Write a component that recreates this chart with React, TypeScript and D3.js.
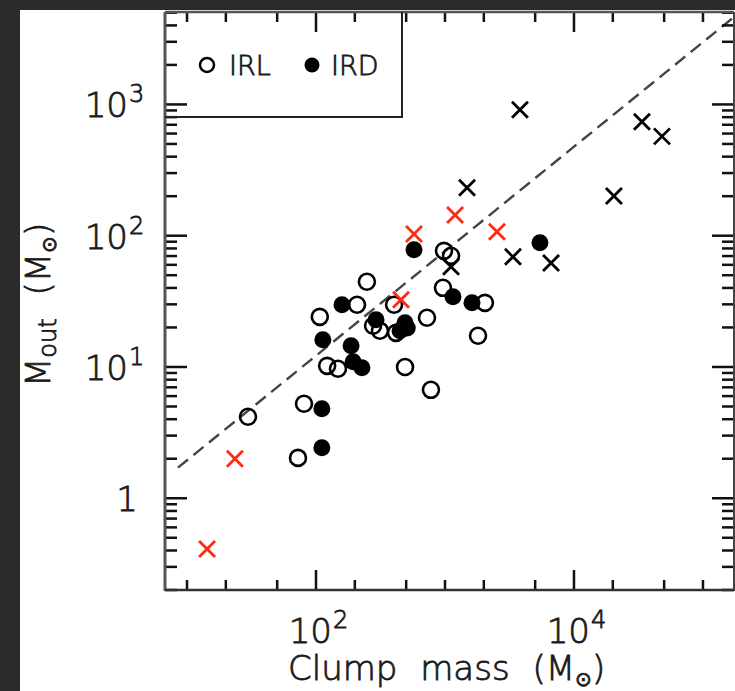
import React from 'react';
import * as d3 from 'd3';

// ---- data ----
const irlMass = [29.7, 80.7, 72.5, 107, 122, 148, 248, 208, 277, 313, 403, 490, 725, 778, 982, 1114, 964, 2040, 1803, 417];
const irlOut = [4.18, 5.25, 2.03, 24.1, 10.2, 9.7, 44.6, 29.8, 20.6, 18.9, 29.8, 10.0, 23.7, 6.7, 76.7, 70.3, 40.1, 30.8, 17.3, 18.2];
const irdMass = [111, 111, 113, 159, 187, 194, 227, 292, 490, 448, 575, 1153, 1619, 5445, 510];
const irdOut = [2.42, 4.8, 16.1, 29.8, 14.5, 10.96, 9.86, 22.9, 21.7, 18.9, 78.1, 34.3, 30.8, 88.3, 19.8];
const redXMass = [14.3, 23.5, 575, 456, 1197, 2530];
const redXOut = [0.41, 2.0, 103, 32.5, 144, 107];
const blkXMass = [3811, 33650, 48100, 20400, 1482, 3365, 6640, 1114];
const blkXOut = [910, 738, 571, 201, 232, 69, 62, 58];
const fitMass = [8.5, 1.71e5];
const fitOut = [1.71, 4570];

const xMajor = [100, 1e4];
const xMajorSup = ['2', '4'];
const xMinor = [10, 20, 50, 200, 500, 1000, 2000, 5000, 2e4, 5e4, 1e5];
const yMajor = [1, 10, 100, 1000];
const yMajorBase = ['1', '10', '10', '10'];
const yMajorSup = ['', '1', '2', '3'];
const yMinorMult = [2, 3, 4, 5, 6, 7, 8, 9];
const yDecades = [0.1, 1, 10, 100, 1000];

const W = 735, H = 691;
const L = 165, R = 734, T = 12, B = 590;
const FONT = '"DejaVu Sans", sans-serif';

export default function App() {
  const x = d3.scaleLog().domain([6.75, 1.74e5]).range([L, R]);
  const y = d3.scaleLog().domain([0.2, 5060]).range([B, T]);
  const yMinor: number[] = [];
  yDecades.forEach(d => yMinorMult.forEach(m => {
    const v = d * m;
    if (v >= 0.2 && v <= 5060) yMinor.push(v);
  }));
  const fitLine = d3.line<number>().x((_, i) => x(fitMass[i])).y((_, i) => y(fitOut[i]));
  const cross = (cx: number, cy: number, s: number) =>
    `M${cx - s},${cy - s}L${cx + s},${cy + s}M${cx - s},${cy + s}L${cx + s},${cy - s}`;
  const yTickPos = yMajor.map(v => y(v));
  const yMinorPos = yMinor.map(v => y(v));
  const xTickPos = xMajor.map(v => x(v));
  const xMinorPos = xMinor.map(v => x(v));
  const tk = '#111';
  const tw = 2.5;
  const txt = '#1a1a1a';
  return (
    <svg width={W} height={H} style={{ position: 'absolute', left: 0, top: 0 }} fontFamily={FONT} fontWeight={300}>
      <rect x={0} y={0} width={W} height={H} fill="#2b2b2b" />
      <rect x={20} y={10} width={W - 20} height={H - 10} fill="#fff" />
      {/* fit line */}
      <path d={fitLine(fitMass) || ''} fill="none" stroke="#444" strokeWidth={2.4} strokeDasharray="13 7" />
      {/* ticks */}
      {yTickPos.map((p, i) => (
        <g key={'ym' + i}>
          <rect x={L} y={p - tw / 2} width={22} height={tw} fill={tk} />
          <rect x={R - 22} y={p - tw / 2} width={22} height={tw} fill={tk} />
        </g>
      ))}
      {yMinorPos.map((p, i) => (
        <g key={'yn' + i}>
          <rect x={L} y={p - tw / 2} width={12} height={tw} fill={tk} />
          <rect x={R - 12} y={p - tw / 2} width={12} height={tw} fill={tk} />
        </g>
      ))}
      {xTickPos.map((p, i) => (
        <g key={'xm' + i}>
          <rect x={p - tw / 2} y={B - 20} width={tw} height={20} fill={tk} />
          <rect x={p - tw / 2} y={T} width={tw} height={20} fill={tk} />
        </g>
      ))}
      {xMinorPos.map((p, i) => (
        <g key={'xn' + i}>
          <rect x={p - tw / 2} y={B - 10} width={tw} height={10} fill={tk} />
          <rect x={p - tw / 2} y={T} width={tw} height={10} fill={tk} />
        </g>
      ))}
      {/* axes frame */}
      <line x1={L} x2={L} y1={T} y2={B + 1} stroke="#555" strokeWidth={3} />
      <line x1={R} x2={R} y1={T} y2={B + 1} stroke="#444" strokeWidth={2} />
      <line x1={L} x2={R} y1={B} y2={B} stroke="#333" strokeWidth={2.5} />
      <line x1={L} x2={R} y1={T} y2={T} stroke="#555" strokeWidth={2.5} />
      {/* legend box */}
      <path d={`M${L},${117}H${402}V${T}`} fill="none" stroke="#222" strokeWidth={2} />
      <g fill={txt} stroke={txt} strokeWidth={0.8}>
        <text x={229} y={75} fontSize={27}>IRL</text>
        <text x={331} y={75} fontSize={27}>IRD</text>
        {/* y tick labels */}
        {yMajor.map((v, i) => (
          <text key={'yl' + i} x={yMajorSup[i] ? 128 : 138} y={y(v) + 13} fontSize={34} textAnchor="end">
            {yMajorBase[i]}
          </text>
        ))}
        {yMajor.map((v, i) => yMajorSup[i] ? (
          <text key={'ys' + i} x={129} y={y(v) - 2} fontSize={24}>{yMajorSup[i]}</text>
        ) : null)}
        {/* x tick labels */}
        {xMajor.map((v, i) => (
          <g key={'xl' + i}>
            <text x={x(v) + 16} y={643} fontSize={34} textAnchor="end">10</text>
            <text x={x(v) + 17} y={628} fontSize={24}>{xMajorSup[i]}</text>
          </g>
        ))}
        {/* axis titles */}
        <text x={288} y={680} fontSize={34} wordSpacing={12}>
          Clump mass (M<tspan fontSize={20} dy={6}>⊙</tspan><tspan dy={-6}>)</tspan>
        </text>
        <text transform="translate(50,387) rotate(-90)" fontSize={34} wordSpacing={12}>
          M<tspan fontSize={24} dy={6}>out</tspan><tspan dy={-6}> (M</tspan><tspan fontSize={20} dy={6}>⊙</tspan><tspan dy={-6}>)</tspan>
        </text>
      </g>
      <circle cx={207} cy={65} r={7} fill="none" stroke="#000" strokeWidth={2.5} />
      <circle cx={312} cy={65} r={7.5} fill="#000" />
      {/* points */}
      {irlMass.map((m, i) => (
        <circle key={'o' + i} cx={x(m)} cy={y(irlOut[i])} r={8} fill="none" stroke="#000" strokeWidth={2.6} />
      ))}
      {irdMass.map((m, i) => (
        <circle key={'f' + i} cx={x(m)} cy={y(irdOut[i])} r={8.5} fill="#000" />
      ))}
      {blkXMass.map((m, i) => (
        <path key={'bx' + i} d={cross(x(m), y(blkXOut[i]), 8)} stroke="#000" strokeWidth={2.8} />
      ))}
      {redXMass.map((m, i) => (
        <path key={'rx' + i} d={cross(x(m), y(redXOut[i]), 8)} stroke="#ff2a10" strokeWidth={2.8} />
      ))}
    </svg>
  );
}
